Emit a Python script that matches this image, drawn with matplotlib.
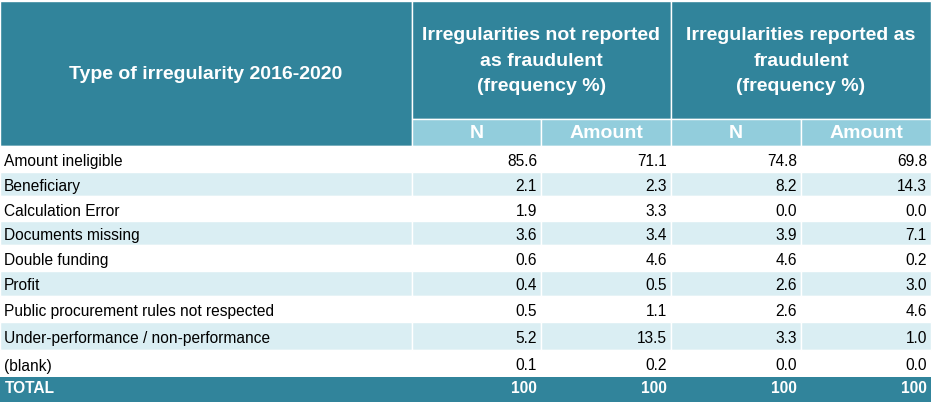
import matplotlib.pyplot as plt
from matplotlib.patches import Rectangle

# Данные таблицы
categories = [
    'Amount ineligible',
    'Beneficiary',
    'Calculation Error',
    'Documents missing',
    'Double funding',
    'Profit',
    'Public procurement rules not respected',
    'Under-performance / non-performance',
    '(blank)',
]
not_fraud_n = [85.6, 2.1, 1.9, 3.6, 0.6, 0.4, 0.5, 5.2, 0.1]
not_fraud_amount = [71.1, 2.3, 3.3, 3.4, 4.6, 0.5, 1.1, 13.5, 0.2]
fraud_n = [74.8, 8.2, 0.0, 3.9, 4.6, 2.6, 2.6, 3.3, 0.0]
fraud_amount = [69.8, 14.3, 0.0, 7.1, 0.2, 3.0, 4.6, 1.0, 0.0]
totals = [100, 100, 100, 100]

title_col = 'Type of irregularity 2016-2020'
group_titles = ['Irregularities not reported\nas fraudulent\n(frequency %)',
                'Irregularities reported as\nfraudulent\n(frequency %)']
sub_titles = ['N', 'Amount', 'N', 'Amount']
total_label = 'TOTAL'

# Цвета
DARK = '#31849B'
LIGHT = '#92CDDC'
BAND = '#DAEEF3'

# Разметка в пикселях
W, H = 933, 404
col_x = [0, 412, 541, 671, 801, 931]
head_top, sub_top, body_top = 1, 119, 146
row_bounds = [146, 172, 196, 221, 245, 271, 296, 322, 350, 377, 402]

fig = plt.figure(figsize=(W / 100, H / 100), dpi=100)
ax = fig.add_axes([0, 0, 1, 1])
ax.set_xlim(0, W)
ax.set_ylim(H, 0)
ax.axis('off')

font = 'Liberation Sans'


def cell(x0, x1, y0, y1, color):
    ax.add_patch(Rectangle((x0, y0), x1 - x0, y1 - y0, facecolor=color,
                           edgecolor='white', linewidth=1))


# Шапка
cell(col_x[0], col_x[1], head_top, body_top, DARK)
ax.text((col_x[0] + col_x[1]) / 2, (head_top + body_top) / 2 + 1, title_col,
        ha='center', va='center', color='white', fontsize=14,
        fontweight='bold', family=font)

for g, title in enumerate(group_titles):
    x0, x1 = col_x[1 + 2 * g], col_x[3 + 2 * g]
    cell(x0, x1, head_top, sub_top, DARK)
    ax.text((x0 + x1) / 2, (head_top + sub_top) / 2 + 1, title,
            ha='center', va='center', color='white', fontsize=14,
            fontweight='bold', family=font, linespacing=1.68)

for i, sub in enumerate(sub_titles):
    x0, x1 = col_x[1 + i], col_x[2 + i]
    cell(x0, x1, sub_top, body_top, LIGHT)
    ax.text((x0 + x1) / 2, (sub_top + body_top) / 2 + 1.5, sub,
            ha='center', va='center', color='white', fontsize=14,
            fontweight='bold', family=font)

# Строки данных
columns = [not_fraud_n, not_fraud_amount, fraud_n, fraud_amount]
for r, name in enumerate(categories):
    y0, y1 = row_bounds[r], row_bounds[r + 1]
    yc = (y0 + y1) / 2 + 2.5
    color = BAND if r % 2 == 1 else 'white'
    for c in range(5):
        cell(col_x[c], col_x[c + 1], y0, y1, color)
    ax.text(col_x[0] + 4, yc, name, ha='left', va='center',
            fontsize=11.2, color='black', family=font)
    for c, values in enumerate(columns):
        ax.text(col_x[c + 2] - 4, yc, f'{values[r]:.1f}', ha='right',
                va='center', fontsize=11.2, color='black', family=font)

# Итоговая строка
y0, y1 = row_bounds[-2], row_bounds[-1]
ax.add_patch(Rectangle((col_x[0], y0), col_x[-1] - col_x[0], y1 - y0,
                       facecolor=DARK, edgecolor='none'))
yc = (y0 + y1) / 2 - 1
ax.text(col_x[0] + 5, yc, total_label, ha='left', va='center', color='white',
        fontsize=11.2, fontweight='bold', family=font)
for c, val in enumerate(totals):
    ax.text(col_x[c + 2] - 4, yc, str(val), ha='right', va='center',
            color='white', fontsize=11.2, fontweight='bold', family=font)

fig.savefig('out.png', dpi=100)
